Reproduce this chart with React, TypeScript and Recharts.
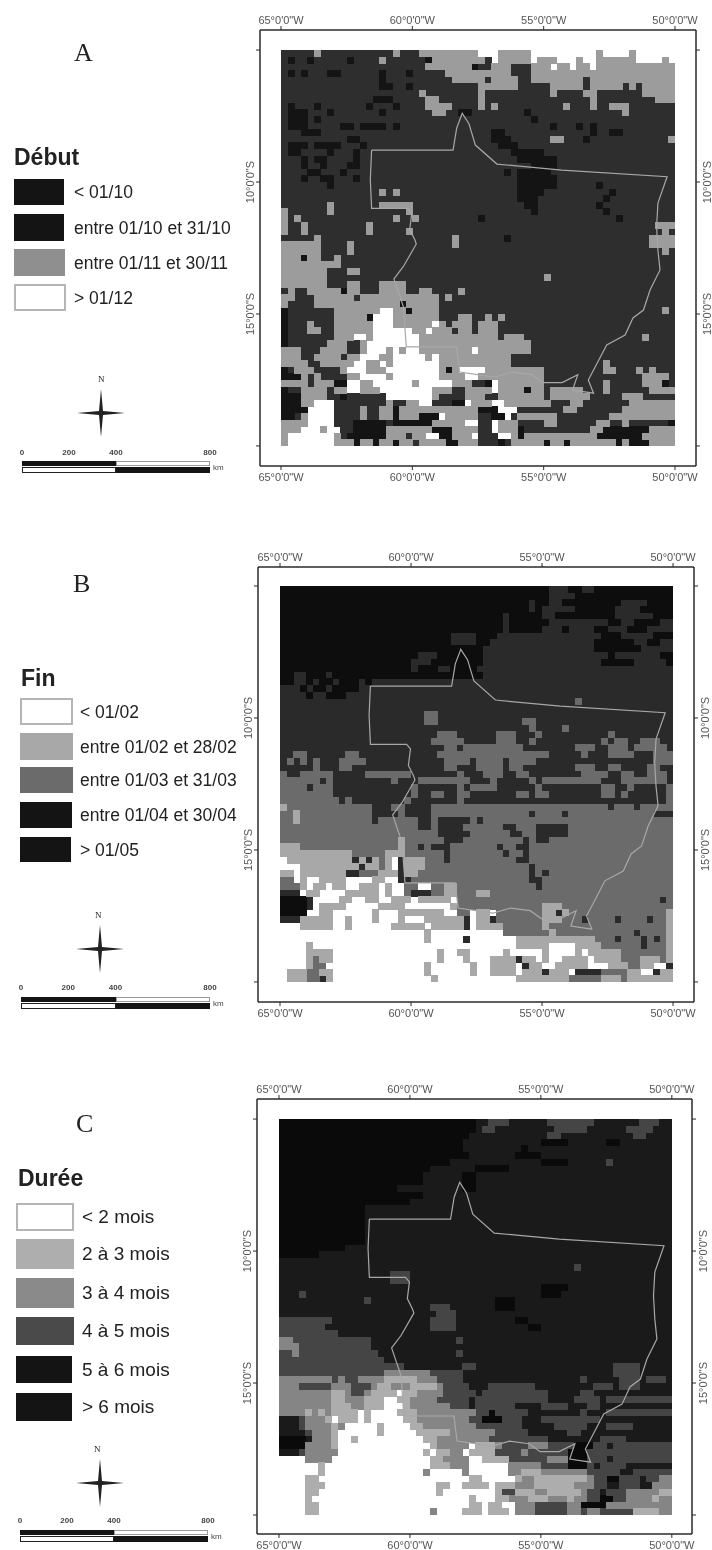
import { ScatterChart, Scatter, XAxis, YAxis } from "recharts";

// each row: class letter + first column of the run, 60 columns of 0.25 deg, from 5S going south
const debutRows = [
  "k0 l5 k6 l17 k18 l21 w30 l33 w38 l48 w49 l53 w54",
  "k0 n1 k2 n4 k5 n10 k11 l15 k16 n22 l23 k31 w32 l33 w38 l39 w42 l45 w46 l48 w54 l58 w59",
  "k0 l22 n29 k30 l32 k35 l38 w41 l42 w44 l45 w47 l48",
  "k0 n1 k2 n3 k4 n7 k9 n15 k16 n19 k20 l25 k35 l38",
  "k0 n15 k16 l26 k31 l32 k36 l38 k46 l47",
  "k0 n15 k17 n19 k20 l30 k36 l41 k46 l47 k52 l53 k54 l55",
  "k0 l21 k22 l30 k31 l41 k42 l46 k48 l55",
  "k0 n14 k17 l22 k24 l30 k31 l47 k48 l57",
  "k0 n1 k2 n5 k6 n13 k14 n17 k18 l22 k26 l30 k31 l32 k33 l43 k44 l47 k48 l50 k53",
  "k0 n1 k4 n7 k8 n15 k16 l23 k25 n27 k29 n37 k38 l52 k53",
  "k0 n1 k4 n5 k6 n38 k39",
  "k0 n1 k4 n9 k11 n12 k16 n17 k18 n41 k42 n45 k46 n47 k48",
  "k0 n3 k6 n32 k34 n47 k48 n50 k52",
  "k0 n10 k12 n32 k35 l41 k43 n46 k47 l59",
  "k0 n1 k4 n5 k9 n12 k13 n33 k36",
  "k0 n1 k3 n7 k8 n11 k12 n35 k40",
  "k0 n3 k4 n5 k7 n11 k12 n36 k42",
  "k0 n3 k4 n6 k7 n10 k12 n38 k42",
  "k0 n4 k6 n9 k10 n34 k35 n36 k41",
  "k0 n3 k4 n6 k8 n11 k12 n36 k42",
  "k0 n7 k8 n36 k42 n48 k49",
  "k0 l15 k16 l17 k18 n36 k40 n50 k51",
  "k0 n36 k39 n49 k50",
  "k0 l7 k8 l15 k20 n37 k39 n48 k49",
  "l0 k1 l7 k8 l19 k20 n38 k39 n49 k50",
  "l0 k1 l2 k3 l17 k18 l20 k21 n30 k31 n51 k52",
  "l0 k1 l3 k4 l13 k14 l57",
  "l0 k1 l3 k4 l13 k14 l19 k20 l58 k59",
  "k0 l5 k6 l26 k27 n34 k35 l56",
  "l0 k6 l10 k11 l26 k27 l56",
  "l0 k6 l10 k11 l58 k59",
  "l0 n3 l4 k6 l8 k9",
  "l0 k9",
  "l0 k7 l10 k12",
  "l0 k7 l40 k41",
  "l0 k7 l10 k12 l15 k19",
  "k0 l1 k2 l4 n9 l10 k12 l15 k19 l21 k23 l27 k28",
  "l0 k2 l5 k11 l12 k24 l25 k26",
  "l0 k1 l5 n18 l19 k24",
  "n0 k1 l8 w15 l17 n19 l20 k24 l58 k59",
  "n0 k1 l8 n13 w14 l17 k24 l27 k29 l31 k32 l33 k34",
  "n0 k1 l4 k5 l8 w14 l17 w23 l24 k25 l26 k29 l30 k33",
  "n0 k1 l4 k6 l8 w14 l20 w22 l23 k26 l27 k29 l30 k33",
  "n0 k1 l8 w11 l13 w14 l21 k33 l34 k37 l55 k56",
  "n0 k1 l7 k10 l12 w13 l14 w14 l21 k38",
  "l0 k3 l6 k10 l12 w13 l16 w17 l18 w19 l21 w29 l30 k38",
  "l0 k3 l5 k9 l10 w12 l15 w17 l22 w23 l24 k35",
  "l0 k4 l6 w11 l13 w15 l16 w17 l24 k35 l49 k50",
  "n0 k1 l2 k5 l9 w10 l13 w16 l24 n25 l26 w27 l31 k40 l49 k51 l54 k55 l56 k57",
  "n0 l3 k4 l5 k6 l10 w12 l16 w17 l24 w28 l30 k40 l55 k59",
  "l0 k4 l5 n8 w10 l12 w14 l20 w21 l25 w25 l26 k29 n31 w32 l33 k40 l49 k50 l55 n58 k59",
  "n0 k1 l3 k7 l8 w10 l12 w15 l23 k26 l28 w32 l33 n37 l38 k40 l41 k46 l49 k50 l56",
  "n0 l3 k7 n9 k10 w16 l23 k24 l28 k31 l33 k40 l41 k47 l52 k55",
  "n0 l3 w5 k8 l16 k17 l19 w21 k23 n26 w28 l29 w32 l34 k41 l44 k46 l53",
  "n0 w4 k8 l12 k13 l15 n17 l18 n30 w33 k36 l43 k45 l52",
  "n0 k2 l3 w4 k8 l12 k13 l15 n17 l18 n21 w24 l25 k30 n32 w34 k35 l36 k42 l50",
  "l0 w4 k8 n11 k16 n17 l23 w28 k30 w32 l33 k36 l40 k42 l48 k50 l52 k53 n59",
  "l0 w3 l6 w7 k9 n11 l16 n23 l26 k30 w32 l33 n36 k37 l47 n49 l56",
  "l0 w1 l8 k9 n10 l16 k19 l20 w22 n24 l26 w29 k30 w33 l35 n36 l37 n48 l55",
  "l0 w1 l8 n11 l12 n14 l15 n17 l18 k20 l21 n25 l27 k30 n33 k34 l35 n40 l41 n43 l44 n51 l52 n53 l56",
];

const finRows = [
  "n0 k41 n44 k46 n48",
  "n0 k41 n45",
  "n0 k38 n39 k41 n43 k52 n56",
  "n0 k38 n39 k40 n45 k51 n55",
  "n0 k34 n35 k40 n42 k51 n57",
  "n0 k34 n35 k41 n50 k52 n54 k58",
  "n0 k34 n35 k40 n43 k44 n48 k50 n53 k56",
  "n0 k26 n30 k33 n49 k52 n57",
  "n0 k26 n30 k32 n48 k54 n56 k58",
  "n0 k31 n48 k55",
  "n0 k21 n24 k31 n50 k51 n58",
  "n0 k20 n23 k31 n49 k54 n59",
  "n0 k20 n21 k24 n26 k30",
  "n0 k2 n4 k7 n8 k31",
  "n0 k2 n4 k5 n6 k8 n9 k12 n13 k14",
  "k0 n3 k4 n5 k7 n8 k12",
  "k0 n4 k5 n7 k10",
  "k0 m45 k46",
  "k0",
  "k0 m22 k24",
  "k0 m22 k24 m37 k39",
  "k0 m38 k39 m43 k44",
  "k0 m24 k27 m33 k36 m39 k40 m50 k51",
  "k0 m23 k28 m33 k36 m38 k39 m49 k50 m51 k53 m55 k58",
  "k0 m25 k27 m28 k37 m45 k48 m50 k53 m54 k59",
  "k0 m2 k4 m10 k12 m24 k41 m46 k47 m50 k54 m57",
  "k0 m1 k2 m3 k4 m5 k6 m9 k13 m25 k29 m30 k34 m35 k39 m57",
  "k0 m5 k6 m9 k11 m25 k27 m30 k34 m35 k37 m45 k48 m50 k52 m56 k58",
  "m0 k1 m3 k8 m13 k20 m27 k28 m31 k34 m36 k38 m46 k50 m52 k54 m56 k59",
  "m0 k6 m7 k8 m17 k18 m21 k29 m32 k33 m38 k39 m40 k49 m52 k59",
  "m0 k4 m5 k8 m20 k21 m27 k28 m29 k33 m39 k40 m49 k51 m53 k54 m59",
  "m0 k8 m20 k21 m23 k25 m27 k29 m36 k38 m39 k41 m49 k51 m52 k53 m59",
  "m0 k9 m10 k11 m19 k20 m27 k28 m59",
  "l0 m1 k14 m17 k19 m23 k50 m51 k54 m55",
  "m0 l2 m3 k14 m18 k19 m23 k38 m39 k43 m44 k57",
  "m0 l2 m3 k14 m15 k21 m23 k24 m29 k30 m31",
  "m0 k21 m23 k24 m28 k34 m36 k39 m44",
  "m0 k24 m29 k35 m37 k39 m44",
  "m0 l18 m19 k25 m28 k37 m38 k39 m41",
  "l0 m3 l18 m19 k21 m22 k23 m26 k33 m34 k36 m38",
  "l0 m11 l16 m19 k25 m26 k34 m35 k37 m38",
  "w0 l1 k11 l12 k13 l14 m15 l16 w17 k18 l19 m22 k25 m26 k36 m38",
  "w0 l3 k12 l13 m15 l16 w17 k18 l19 m22 k38 m39",
  "l0 w2 l3 k10 m12 l15 k18 l19 m21 k38 m39 k40 m41",
  "m0 w2 l3 w4 l6 w10 l14 w16 k18 m20 k38 m40",
  "m0 l3 w4 l5 w7 l8 w10 l12 w15 l16 w17 m19 l21 w21 m23 l25 m27 k39 m40",
  "k0 w3 l4 w6 l10 w15 l16 w17 m19 k20 l23 m23 l25 m27 l30 m32",
  "n0 k4 w5 l9 w11 l13 w15 l17 w20 l21 w26 m27 k58 m59",
  "n0 k4 w5 l6 w10 l15 w19 l26 m27 l40 m43",
  "n0 w4 l6 w8 l14 w15 l18 w25 m27 l29 w29 l30 w32 m33 l40 k42 l43 m44 l59",
  "k0 l3 w8 l10 w11 l14 w15 l18 w19 l22 w28 k28 w29 l30 w32 k32 m33 l40 m43 k46 m47 k51 m52 k56 m57 l59",
  "w0 l3 w8 l10 w11 l17 w22 l23 k28 w29 l30 m34 l40 m41 l59",
  "w0 l22 w23 m34 l41 m42 k54 m55 l59",
  "w0 l22 w23 k28 w29 l36 m48 k51 m52 k55 m56 k57 m58 l59",
  "w0 l4 w5 l36 w41 l45 m49 k55 m56 l59",
  "w0 l4 w8 l24 w25 l27 w29 l34 w35 l40 w41 l45 w46 l47 m52 l59",
  "w0 l4 m5 l6 w8 l24 w25 l28 w29 l32 k36 l37 w39 l40 w41 l43 w47 l48 m52 l55 m58 l59",
  "w0 l4 m5 w7 l22 w23 l29 w30 l32 w36 k37 l38 w40 l42 w47 l50 m53 l55 w57 k59",
  "w0 l1 m4 l6 w8 l22 w23 l29 w30 l32 w36 l37 k40 l41 w44 k45 m49 l53 w55 k57 l58",
  "w0 l1 m4 k6 l7 w8 l23 w24 l36 w44 m44 l49 m52 l53",
];

const dureeRows = [
  "n0 k30 d32 k35 d41 k48 d55 k58",
  "n0 k30 d31 k33 d42 k47 d53 k57",
  "n0 k29 d41 k43 d54 k56",
  "n0 k28 n40 k44 n50 k52",
  "n0 k28 n37 k38",
  "n0 k29 n36 k40",
  "n0 k26 n40 k44 d50 k51",
  "n0 k23 n30 k35",
  "n0 k22 n28 k30",
  "n0 k22 n28 k30",
  "n0 k18 n28 k30",
  "n0 k22",
  "n0 k20",
  "n0 k13",
  "n0 k13",
  "n0 k13",
  "n0 k13",
  "n0 k13",
  "n0 k13",
  "n0 k10",
  "n0 k6",
  "k0",
  "k0 d45 k46",
  "k0 d17 k20",
  "k0 d17 k20",
  "k0 n40 k44",
  "k0 d3 k4 n40 k43",
  "k0 d13 k14 n33 k36",
  "k0 d23 k26 n33 k36",
  "k0 d24 k27",
  "d0 k8 d23 k27 n36 k38",
  "d0 k7 d23 k27 n38 k40",
  "d0 k9",
  "m0 d2 k14 d27 k28",
  "m0 d3 k14",
  "d0 m2 d3 k15 d27 k28",
  "d0 k16",
  "d0 k19 d28 k30 d51 k55",
  "d0 m16 d21 m21 d23 k28 d51 k55",
  "m0 d8 m9 d10 m12 l16 m21 d24 k28 d46 k47 d52 k55 d56 k59",
  "m0 d3 m8 d11 m14 l15 m17 l20 m24 d25 k29 d32 k39 d48 k51 d52 k55",
  "m0 l8 m10 d11 m13 l14 w18 l19 m21 d25 k30 d31 k41 d46 k48",
  "m0 l8 m10 l13 w16 l18 m20 d24 k29 d30 k41 d45 k49 d50",
  "m0 l8 m11 l13 w16 l19 m20 d26 k29 d30 k36 d40 k44 d47 k49",
  "m0 l4 m5 l6 m7 l8 w12 l13 w14 l18 m21 d30 n32 d33 k38 d46 k47 d50",
  "k0 d3 m4 l7 w8 l9 w12 l13 w14 l19 m21 d29 n31 d34 k37 d40 k49",
  "k0 d3 m4 l8 m9 w10 l15 w16 l20 m22 d30 k37 d42 k47 d50 k54",
  "k0 d4 m5 l8 w9 l15 w16 l21 m26 d33 k38 d44 k46",
  "n0 k4 m5 l8 w9 l11 w12 l22 m24 d32 k41 d49 k53",
  "n0 m4 l8 w9 l23 m24 w29 l30 m33 d34 m38 d41 n45 d48 k50 d51",
  "k0 d3 m4 w9 l22 w23 l24 m26 w28 l29 d33 m37 d38 n44 d47",
  "w0 m4 w8 l23 m25 w29 l31 d35 m41 n44 d47 k50 d51",
  "w0 l6 w7 l23 m26 w29 m35 d40 n44 d47 k48 d49 k53",
  "w0 l6 w7 m22 w23 m28 w29 m35 l37 m40 d47 k52 d54",
  "w0 l4 w6 l29 w31 l36 m37 l39 m47 d48 n50 d52 k55 d56 m58",
  "w0 l4 w7 l24 w26 l28 w32 l33 m36 l39 m45 d48 k50 d52 k55 m57",
  "w0 l4 w6 l24 w25 l33 d34 l36 m39 l41 m46 d47 k49 d50 m53 l58",
  "w0 l4 w5 l29 w30 l33 m35 l38 m41 l44 m45 d47 n49 d51 m53 l57 m58",
  "w0 l4 w6 l29 w31 l32 w34 m36 d39 m44 n46 m50",
  "w0 l4 w6 m23 w24 l28 w31 l32 w35 m36 d39 m44 d46 m47 d49 l54 m58",
];

// Mato Grosso outline, degrees
const boundaryLon = [-61.55, -58.45, -58.31, -58.1, -57.84, -57.6, -56.78, -54.3, -50.3, -50.65, -50.7, -50.65, -50.57, -50.95, -51.2, -51.6, -51.9, -52.6, -52.93, -53.3, -53.1, -53.9, -53.7, -54.3, -55.03, -55.45, -56.2, -56.87, -58.2, -58.32, -60.23, -60.34, -60.7, -60.34, -59.85, -59.9, -60.1, -60.02, -60.17, -61.55, -61.6, -61.55];
const boundaryLat = [-8.79, -8.79, -7.95, -7.4, -7.8, -8.6, -9.32, -9.55, -9.8, -10.8, -11.7, -12.58, -13.33, -14.09, -14.85, -15.15, -15.8, -16.17, -16.8, -17.5, -18, -17.88, -17.3, -17.6, -17.6, -17.3, -17.2, -17.39, -17.2, -16.25, -16.25, -14.73, -13.67, -13.2, -12.35, -12.2, -11.8, -11.17, -11, -11, -9.9, -8.79];

const lonTicks = [-65, -60, -55, -50];
const latTicks = [-5, -10, -15, -20];
const latLabels = [-10, -15];

const debutLegend = ["< 01/10", "entre 01/10 et 31/10", "entre 01/11 et 30/11", "> 01/12"];
const finLegend = ["< 01/02", "entre 01/02 et 28/02", "entre 01/03 et 31/03", "entre 01/04 et 30/04", "> 01/05"];
const dureeLegend = ["< 2 mois", "2 à 3 mois", "3 à 4 mois", "4 à 5 mois", "5 à 6 mois", "> 6 mois"];
const scaleLabels = ["0", "200", "400", "800"];

const boundary = boundaryLon.map((lon, i) => ({ lon, lat: boundaryLat[i] }));

function decode(rows: string[]) {
  const cells: { lon: number; lat: number; code: string }[] = [];
  rows.forEach((row, r) => {
    const runs = row.split(" ").map((t) => ({ code: t[0], start: Number(t.slice(1)) }));
    runs.forEach((run, i) => {
      const end = i + 1 < runs.length ? runs[i + 1].start : 60;
      if (run.code === "w") return;
      for (let c = run.start; c < end; c++) {
        cells.push({ lon: -65 + 0.25 * (c + 0.5), lat: -5 - 0.25 * (r + 0.5), code: run.code });
      }
    });
  });
  return cells;
}

const Cell = (props: any) => (
  <rect x={props.cx - 3.3} y={props.cy - 3.3} width={7} height={7} fill={props.fill} shapeRendering="crispEdges" />
);

const axisLine = { stroke: "#2a2a2a", strokeWidth: 1.5 };
const tickLine = { stroke: "#2a2a2a" };
const lonText = (v: number) => `${Math.abs(v)}°0'0"W`;
const latText = (v: number) => `${Math.abs(v)}°0'0"S`;

const LonTick = ({ x, y, payload, below }: any) => (
  <text x={x} y={below ? y + 9 : y} textAnchor="middle" fontSize={11} fontFamily="Liberation Sans" fill="#555">
    {lonText(payload.value)}
  </text>
);

const LatTick = ({ x, y, payload, right }: any) => {
  if (!latLabels.includes(payload.value)) return <g />;
  const tx = right ? x + 9 : x;
  return (
    <text x={tx} y={y} transform={`rotate(-90 ${tx} ${y})`} textAnchor="middle" fontSize={11} fontFamily="Liberation Sans" fill="#555">
      {latText(payload.value)}
    </text>
  );
};

function MapPanel({ rows, fills, frame, lonDomain, latDomain }: any) {
  const cells = decode(rows);
  const codes = Object.keys(fills);
  return (
    <div style={{ position: "absolute", left: 0, top: frame.top - 30 }}>
      <ScatterChart
        width={712}
        height={frame.bottom - frame.top + 60}
        margin={{ top: 10, bottom: 10, left: frame.left - 10, right: 712 - frame.right - 10 }}
      >
        <XAxis xAxisId="b" orientation="bottom" type="number" dataKey="lon" domain={lonDomain} ticks={lonTicks} interval={0} height={20} tickSize={4} tickMargin={2} axisLine={axisLine} tickLine={tickLine} allowDataOverflow tick={<LonTick below />} />
        <XAxis xAxisId="t" orientation="top" type="number" dataKey="lon" domain={lonDomain} ticks={lonTicks} interval={0} height={20} tickSize={4} tickMargin={2} axisLine={axisLine} tickLine={tickLine} allowDataOverflow tick={<LonTick />} />
        <YAxis yAxisId="l" orientation="left" type="number" dataKey="lat" domain={latDomain} ticks={latTicks} interval={0} width={10} tickSize={4} tickMargin={2} axisLine={axisLine} tickLine={tickLine} allowDataOverflow tick={<LatTick />} />
        <YAxis yAxisId="r" orientation="right" type="number" dataKey="lat" domain={latDomain} ticks={latTicks} interval={0} width={10} tickSize={4} tickMargin={2} axisLine={axisLine} tickLine={tickLine} allowDataOverflow tick={<LatTick right />} />
        {codes.map((code) => (
          <Scatter
            key={code}
            xAxisId="b"
            yAxisId="l"
            data={cells.filter((c) => c.code === code)}
            fill={fills[code]}
            shape={Cell}
            isAnimationActive={false}
          />
        ))}
        <Scatter
          xAxisId="b"
          yAxisId="l"
          data={boundary}
          line={{ stroke: "#a8a8a8", strokeWidth: 1.2 }}
          shape={() => <g />}
          isAnimationActive={false}
        />
      </ScatterChart>
    </div>
  );
}

const abs = (left: number, top: number) => ({ position: "absolute" as const, left, top });

function Legend({ title, titleX, titleY, labels, colors, swatches, labelX, fontSize }: any) {
  return (
    <>
      <div style={{ ...abs(titleX, titleY), fontFamily: "Liberation Sans", fontWeight: 700, fontSize: 23, lineHeight: "26px", color: "#222" }}>
        {title}
      </div>
      {labels.map((label: string, i: number) => {
        const s = swatches[i];
        const white = colors[i] === "#ffffff";
        return (
          <div key={label}>
            <div
              style={{
                ...abs(s.x, s.y),
                width: s.w,
                height: s.h,
                boxSizing: "border-box",
                background: colors[i],
                border: white ? "2px solid #b5b5b5" : "none",
              }}
            />
            <div
              style={{
                ...abs(labelX, s.y + s.h / 2 - 12),
                fontFamily: "Liberation Sans",
                fontSize,
                lineHeight: "24px",
                color: "#222",
                whiteSpace: "nowrap",
              }}
            >
              {label}
            </div>
          </div>
        );
      })}
    </>
  );
}

function Compass({ x, y, nx, ny }: any) {
  return (
    <>
      <svg style={abs(x - 24, y - 24)} width={48} height={48}>
        <path d="M24 0 L26 22 L48 24 L26 26 L24 48 L22 26 L0 24 L22 22 Z" fill="#222" />
      </svg>
      <div style={{ ...abs(nx - 4, ny - 6), fontFamily: "Liberation Serif", fontSize: 9, lineHeight: "12px", color: "#222" }}>N</div>
    </>
  );
}

function ScaleBar({ x0, x1, labelY, barY }: any) {
  const mid = x0 + (x1 - x0) / 2;
  const xs = [x0, x0 + (x1 - x0) / 4, mid, x1];
  return (
    <>
      {scaleLabels.map((t, i) => (
        <div key={t} style={{ ...abs(xs[i] - 12, labelY - 6), width: 24, textAlign: "center", fontFamily: "Liberation Sans", fontSize: 8, fontWeight: 700, lineHeight: "12px", color: "#444" }}>
          {t}
        </div>
      ))}
      <div style={{ ...abs(x0, barY), width: mid - x0, height: 5, background: "#151515" }} />
      <div style={{ ...abs(mid, barY), width: x1 - mid, height: 5, boxSizing: "border-box", background: "#fff", border: "1px solid #999" }} />
      <div style={{ ...abs(x0, barY + 6), width: mid - x0, height: 6, boxSizing: "border-box", background: "#fff", border: "1px solid #222" }} />
      <div style={{ ...abs(mid, barY + 6), width: x1 - mid, height: 6, background: "#151515" }} />
      <div style={{ ...abs(x1 + 3, barY + 1), fontFamily: "Liberation Sans", fontSize: 8, lineHeight: "12px", color: "#444" }}>km</div>
    </>
  );
}

const letterStyle = { fontFamily: "Liberation Serif", fontSize: 26, lineHeight: "30px", color: "#222" };

export default function App() {
  return (
    <div style={{ position: "absolute", left: 0, top: 0, width: 712, height: 1550, overflow: "hidden", background: "#fff", filter: "blur(0.6px)" }}>
      <div style={{ ...abs(74, 38), ...letterStyle }}>A</div>
      <div style={{ ...abs(73, 569), ...letterStyle }}>B</div>
      <div style={{ ...abs(76, 1109), ...letterStyle }}>C</div>

      <MapPanel
        rows={debutRows}
        fills={{ k: "#2e2e2e", n: "#141414", l: "#9c9c9c" }}
        frame={{ left: 260, right: 696, top: 30, bottom: 466 }}
        lonDomain={[-65.8, -49.2]}
        latDomain={[-20.76, -4.24]}
      />
      <MapPanel
        rows={finRows}
        fills={{ k: "#2a2a2a", n: "#0d0d0d", m: "#6b6b6b", l: "#a8a8a8" }}
        frame={{ left: 258, right: 694, top: 567, bottom: 1002 }}
        lonDomain={[-65.84, -49.2]}
        latDomain={[-20.76, -4.28]}
      />
      <MapPanel
        rows={dureeRows}
        fills={{ k: "#1a1a1a", n: "#0a0a0a", d: "#454545", m: "#858585", l: "#adadad" }}
        frame={{ left: 257, right: 692, top: 1099, bottom: 1534 }}
        lonDomain={[-65.84, -49.23]}
        latDomain={[-20.72, -4.24]}
      />

      <Legend
        title="Début"
        titleX={14}
        titleY={144}
        labels={debutLegend}
        colors={["#141414", "#141414", "#8f8f8f", "#ffffff"]}
        swatches={[
          { x: 14, y: 179, w: 50, h: 26 },
          { x: 14, y: 214, w: 50, h: 27 },
          { x: 14, y: 249, w: 51, h: 27 },
          { x: 14, y: 284, w: 52, h: 27 },
        ]}
        labelX={74}
        fontSize={17.5}
      />
      <Legend
        title="Fin"
        titleX={21}
        titleY={665}
        labels={finLegend}
        colors={["#ffffff", "#a8a8a8", "#6b6b6b", "#141414", "#141414"]}
        swatches={[
          { x: 20, y: 698, w: 53, h: 27 },
          { x: 20, y: 733, w: 53, h: 27 },
          { x: 20, y: 767, w: 53, h: 26 },
          { x: 20, y: 802, w: 52, h: 26 },
          { x: 20, y: 837, w: 51, h: 25 },
        ]}
        labelX={80}
        fontSize={17.5}
      />
      <Legend
        title="Durée"
        titleX={18}
        titleY={1165}
        labels={dureeLegend}
        colors={["#ffffff", "#aeaeae", "#8a8a8a", "#4a4a4a", "#141414", "#141414"]}
        swatches={[
          { x: 16, y: 1203, w: 58, h: 28 },
          { x: 16, y: 1239, w: 58, h: 30 },
          { x: 16, y: 1278, w: 58, h: 30 },
          { x: 16, y: 1317, w: 58, h: 28 },
          { x: 16, y: 1356, w: 56, h: 27 },
          { x: 16, y: 1393, w: 56, h: 28 },
        ]}
        labelX={82}
        fontSize={19}
      />

      <Compass x={101} y={413} nx={102} ny={379} />
      <Compass x={100} y={949} nx={99} ny={915} />
      <Compass x={100} y={1483} nx={98} ny={1449} />

      <ScaleBar x0={22} x1={210} labelY={453} barY={461} />
      <ScaleBar x0={21} x1={210} labelY={988} barY={997} />
      <ScaleBar x0={20} x1={208} labelY={1521} barY={1530} />
    </div>
  );
}
